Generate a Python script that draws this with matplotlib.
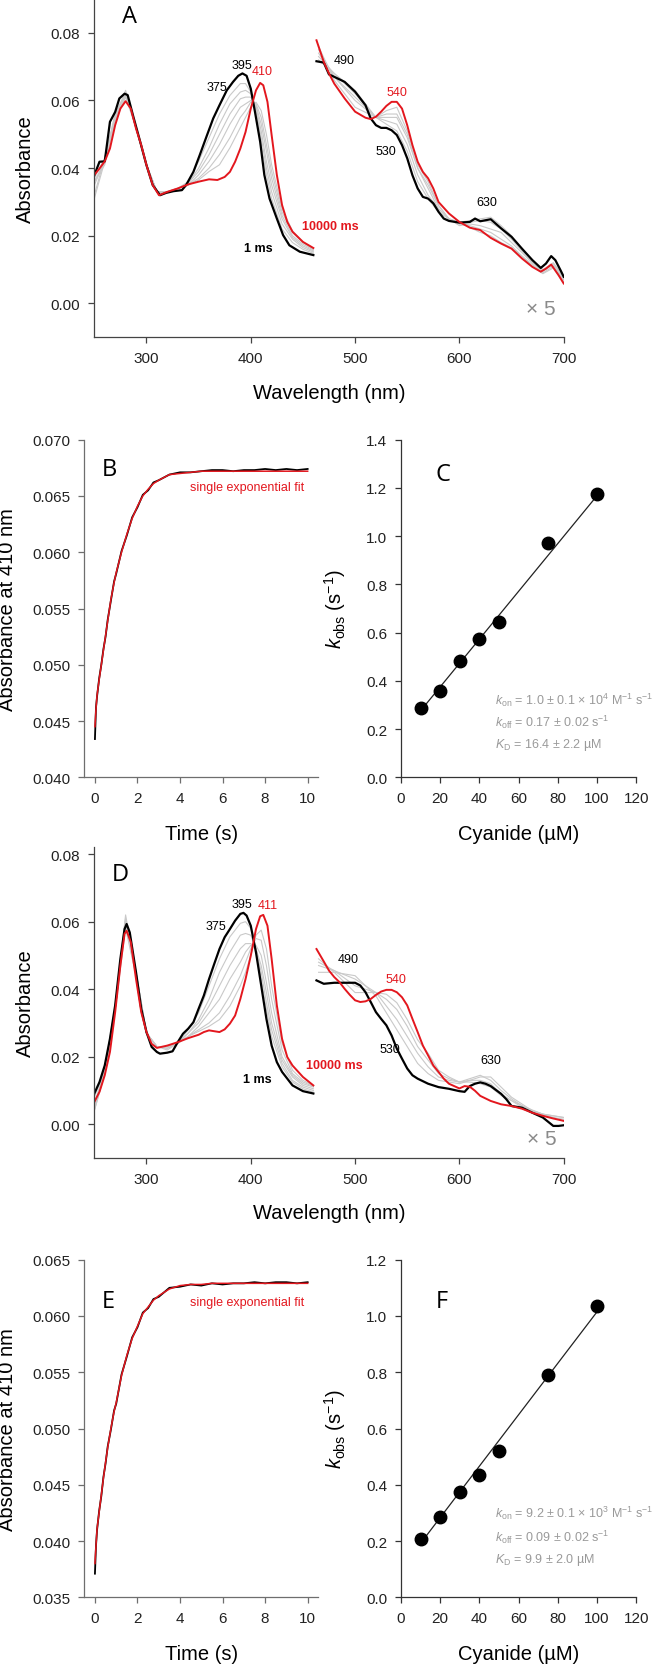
import matplotlib
matplotlib.use("Agg")
import matplotlib.pyplot as plt
from matplotlib.ticker import FormatStrFormatter, MultipleLocator

plt.rcParams['font.family'] = ['Liberation Sans', 'DejaVu Sans']
plt.rcParams['mathtext.fontset'] = 'custom'
plt.rcParams['mathtext.rm'] = 'Liberation Sans'
plt.rcParams['mathtext.it'] = 'Liberation Sans:italic'

RED = '#e3171e'
GRAY = '#c9c9c9'

# ---------------- panel A spectra ----------------
a_soret_wl_k = [250, 255, 260, 265, 270, 274, 279, 282, 287, 294, 300, 306, 313, 319, 326, 334, 338,
                345, 351, 358, 364, 370, 377, 383, 388, 392, 396, 400, 404, 409, 413, 418, 425, 431,
                437, 447, 460]
a_soret_k = [0.0379, 0.0419, 0.0420, 0.0537, 0.0566, 0.0606, 0.0620, 0.0616, 0.0557, 0.0478, 0.0409,
             0.0350, 0.0320, 0.0327, 0.0332, 0.0335, 0.0350, 0.0389, 0.0438, 0.0497, 0.0547, 0.0586,
             0.0630, 0.0655, 0.0673, 0.0680, 0.0673, 0.0635, 0.0567, 0.0478, 0.0380, 0.0310, 0.0251,
             0.0202, 0.0172, 0.0153, 0.0143]
a_soret_wl_r = [250, 255, 260, 265, 270, 275, 280, 285, 290, 295, 300, 306, 312, 320, 330, 340, 350,
                360, 368, 375, 380, 385, 390, 395, 400, 405, 409, 412, 416, 420, 425, 430, 435, 440,
                450, 460]
a_soret_r = [0.0380, 0.0399, 0.0420, 0.0458, 0.0527, 0.0576, 0.0598, 0.0576, 0.0517, 0.0468, 0.0409,
             0.0350, 0.0320, 0.0330, 0.0340, 0.0352, 0.0360, 0.0367, 0.0365, 0.0374, 0.0389, 0.0419,
             0.0458, 0.0507, 0.0576, 0.0630, 0.0652, 0.0645, 0.0596, 0.0498, 0.0380, 0.0291, 0.0241,
             0.0212, 0.0182, 0.0164]
a_vis_wl_k = [463, 470, 475, 480, 490, 500, 510, 515, 520, 525, 530, 535, 540, 545, 550, 555, 560, 565,
              570, 575, 580, 585, 590, 600, 610, 615, 620, 630, 640, 650, 660, 670, 678, 683, 688, 692,
              697, 700]
a_vis_k = [0.0716, 0.0712, 0.0677, 0.0670, 0.0655, 0.0626, 0.0586, 0.0547, 0.0527, 0.0519, 0.0519,
           0.0512, 0.0498, 0.0468, 0.0429, 0.0379, 0.0340, 0.0315, 0.0310, 0.0296, 0.0271, 0.0251,
           0.0244, 0.0239, 0.0241, 0.0251, 0.0243, 0.0249, 0.0222, 0.0197, 0.0162, 0.0128, 0.0105,
           0.0118, 0.0140, 0.0128, 0.0098, 0.0079]
a_vis_wl_r = [463, 470, 475, 480, 490, 500, 510, 515, 520, 525, 530, 535, 540, 545, 550, 555, 560, 565,
              570, 575, 580, 590, 600, 610, 620, 630, 640, 650, 660, 670, 678, 683, 688, 695, 700]
a_vis_r = [0.0778, 0.0714, 0.0680, 0.0650, 0.0606, 0.0567, 0.0549, 0.0545, 0.0552, 0.0567, 0.0584,
           0.0596, 0.0596, 0.0576, 0.0527, 0.0468, 0.0419, 0.0389, 0.0370, 0.0340, 0.0300, 0.0266,
           0.0241, 0.0224, 0.0217, 0.0194, 0.0177, 0.0162, 0.0133, 0.0108, 0.0094, 0.0103, 0.0115,
           0.0084, 0.0059]

# intermediate (grey) spectra, read on a coarse grid
soret_grid = [250, 260, 270, 280, 290, 300, 310, 320, 330, 340, 350, 360, 370, 380, 390, 395, 400,
              405, 410, 415, 420, 430, 440, 450, 460]
vis_grid = [465, 480, 500, 520, 530, 540, 550, 560, 570, 580, 590, 600, 610, 620, 630, 640, 650, 660,
            670, 680, 690, 700]
a_soret_grey = [
    [0.037, 0.043, 0.056, 0.0625, 0.052, 0.041, 0.033, 0.033, 0.034, 0.036, 0.042, 0.049, 0.056, 0.0615,
     0.065, 0.065, 0.0625, 0.056, 0.047, 0.038, 0.031, 0.022, 0.018, 0.016, 0.0148],
    [0.036, 0.042, 0.056, 0.062, 0.052, 0.041, 0.033, 0.033, 0.034, 0.0355, 0.040, 0.046, 0.053, 0.059,
     0.0625, 0.063, 0.062, 0.0575, 0.049, 0.040, 0.033, 0.0235, 0.019, 0.0165, 0.0152],
    [0.035, 0.042, 0.055, 0.062, 0.052, 0.041, 0.033, 0.033, 0.034, 0.0355, 0.039, 0.044, 0.050, 0.056,
     0.0605, 0.061, 0.061, 0.058, 0.051, 0.042, 0.035, 0.025, 0.0195, 0.017, 0.0155],
    [0.032, 0.043, 0.055, 0.0615, 0.052, 0.041, 0.033, 0.033, 0.034, 0.035, 0.038, 0.042, 0.047, 0.053,
     0.058, 0.059, 0.060, 0.0585, 0.053, 0.045, 0.037, 0.026, 0.020, 0.0175, 0.0158],
    [0.031, 0.042, 0.054, 0.061, 0.052, 0.041, 0.033, 0.033, 0.034, 0.035, 0.037, 0.040, 0.044, 0.049,
     0.055, 0.057, 0.0595, 0.059, 0.055, 0.047, 0.039, 0.027, 0.021, 0.018, 0.016],
    [0.036, 0.041, 0.054, 0.063, 0.052, 0.041, 0.033, 0.033, 0.034, 0.035, 0.0365, 0.039, 0.041, 0.046,
     0.052, 0.055, 0.058, 0.0595, 0.057, 0.050, 0.041, 0.028, 0.0215, 0.0182, 0.0162],
]
a_vis_grey = [
    [0.072, 0.068, 0.063, 0.055, 0.053, 0.051, 0.045, 0.036, 0.031, 0.027, 0.025, 0.024, 0.0245, 0.025,
     0.0255, 0.023, 0.020, 0.016, 0.013, 0.010, 0.012, 0.008],
    [0.073, 0.068, 0.062, 0.055, 0.054, 0.053, 0.047, 0.038, 0.032, 0.028, 0.025, 0.0235, 0.024, 0.0245,
     0.024, 0.022, 0.019, 0.0155, 0.012, 0.0095, 0.012, 0.0075],
    [0.074, 0.067, 0.061, 0.055, 0.055, 0.055, 0.049, 0.040, 0.034, 0.028, 0.025, 0.023, 0.0235, 0.023,
     0.022, 0.021, 0.018, 0.015, 0.012, 0.0095, 0.0115, 0.007],
    [0.075, 0.067, 0.060, 0.055, 0.056, 0.056, 0.050, 0.040, 0.035, 0.029, 0.025, 0.0235, 0.023, 0.022,
     0.021, 0.019, 0.017, 0.014, 0.0115, 0.009, 0.011, 0.0065],
    [0.076, 0.066, 0.058, 0.055, 0.057, 0.058, 0.051, 0.041, 0.036, 0.029, 0.025, 0.024, 0.0225, 0.021,
     0.020, 0.018, 0.0165, 0.014, 0.011, 0.0088, 0.0105, 0.006],
]

# ---------------- panel D spectra ----------------
d_soret_wl_k = [250, 255, 260, 265, 270, 275, 279, 281, 284, 290, 295, 300, 305, 310, 313, 320, 325,
                330, 335, 340, 345, 350, 355, 360, 365, 370, 375, 380, 385, 390, 393, 396, 400, 405,
                410, 415, 420, 425, 430, 440, 450, 460]
d_soret_k = [0.0091, 0.0125, 0.0174, 0.0253, 0.0352, 0.0490, 0.0578, 0.0593, 0.0568, 0.0450, 0.0342,
             0.0273, 0.0229, 0.0214, 0.0209, 0.0212, 0.0216, 0.0243, 0.0268, 0.0283, 0.0302, 0.0342,
             0.0381, 0.0430, 0.0475, 0.0519, 0.0554, 0.0578, 0.0603, 0.0623, 0.0626, 0.0618, 0.0588,
             0.0509, 0.0411, 0.0312, 0.0233, 0.0184, 0.0155, 0.0115, 0.0098, 0.0091]
d_soret_wl_r = [250, 255, 260, 265, 270, 275, 279, 281, 285, 290, 295, 300, 305, 310, 320, 330, 340,
                350, 355, 360, 370, 375, 380, 385, 390, 395, 400, 405, 409, 412, 416, 420, 425, 430,
                435, 440, 450, 460]
d_soret_r = [0.0066, 0.0096, 0.0145, 0.0214, 0.0332, 0.0470, 0.0564, 0.0573, 0.0539, 0.0430, 0.0332,
             0.0273, 0.0238, 0.0226, 0.0233, 0.0243, 0.0255, 0.0265, 0.0273, 0.0278, 0.0273, 0.0281,
             0.0298, 0.0322, 0.0371, 0.0430, 0.0499, 0.0578, 0.0616, 0.0620, 0.0588, 0.0490, 0.0352,
             0.0253, 0.0199, 0.0174, 0.0140, 0.0115]
d_vis_wl_k = [463, 470, 480, 490, 500, 505, 510, 515, 520, 525, 530, 535, 540, 545, 550, 555, 560,
              570, 580, 590, 600, 605, 610, 615, 620, 625, 630, 640, 645, 650, 660, 670, 680, 690,
              695, 700]
d_vis_k = [0.0426, 0.0416, 0.0419, 0.0419, 0.0419, 0.0411, 0.0391, 0.0362, 0.0332, 0.0312, 0.0293,
           0.0263, 0.0224, 0.0194, 0.0165, 0.0145, 0.0135, 0.0120, 0.0110, 0.0105, 0.0098, 0.0096,
           0.0113, 0.0120, 0.0124, 0.0120, 0.0113, 0.0090, 0.0074, 0.0054, 0.0049, 0.0034, 0.0020,
           -0.0005, -0.0005, -0.0003]
d_vis_wl_r = [463, 470, 475, 480, 485, 490, 495, 500, 505, 510, 515, 520, 525, 530, 535, 540, 545,
              550, 555, 560, 565, 570, 575, 580, 585, 590, 600, 605, 610, 615, 620, 630, 640, 650,
              660, 670, 680, 690, 700]
d_vis_r = [0.0519, 0.0482, 0.0455, 0.0436, 0.0421, 0.0401, 0.0383, 0.0367, 0.0362, 0.0364, 0.0371,
           0.0383, 0.0393, 0.0398, 0.0398, 0.0391, 0.0376, 0.0352, 0.0312, 0.0273, 0.0233, 0.0204,
           0.0174, 0.0155, 0.0135, 0.0120, 0.0106, 0.0113, 0.0111, 0.0099, 0.0084, 0.0069, 0.0059,
           0.0054, 0.0046, 0.0034, 0.0025, 0.0017, 0.0010]
d_soret_grey = [
    [0.008, 0.016, 0.035, 0.062, 0.045, 0.027, 0.023, 0.022, 0.024, 0.028, 0.033, 0.041, 0.049, 0.0555,
     0.0595, 0.060, 0.058, 0.052, 0.043, 0.034, 0.026, 0.017, 0.0125, 0.0105, 0.0095],
    [0.006, 0.016, 0.035, 0.061, 0.045, 0.027, 0.023, 0.0225, 0.024, 0.027, 0.031, 0.037, 0.045, 0.051,
     0.056, 0.0565, 0.056, 0.052, 0.045, 0.036, 0.028, 0.018, 0.013, 0.011, 0.010],
    [0.005, 0.015, 0.034, 0.060, 0.045, 0.027, 0.023, 0.0225, 0.024, 0.027, 0.030, 0.035, 0.041, 0.047,
     0.052, 0.0535, 0.0535, 0.052, 0.047, 0.039, 0.030, 0.019, 0.014, 0.0115, 0.0105],
    [0.004, 0.015, 0.034, 0.060, 0.045, 0.027, 0.023, 0.023, 0.024, 0.026, 0.029, 0.033, 0.037, 0.043,
     0.048, 0.051, 0.053, 0.053, 0.050, 0.042, 0.033, 0.020, 0.0145, 0.012, 0.011],
    [0.004, 0.015, 0.034, 0.059, 0.044, 0.027, 0.023, 0.023, 0.024, 0.026, 0.028, 0.030, 0.033, 0.038,
     0.044, 0.048, 0.052, 0.055, 0.0545, 0.047, 0.037, 0.022, 0.015, 0.0125, 0.0112],
    [0.005, 0.015, 0.034, 0.058, 0.044, 0.027, 0.023, 0.023, 0.024, 0.026, 0.0275, 0.029, 0.031, 0.035,
     0.041, 0.045, 0.050, 0.056, 0.0575, 0.052, 0.041, 0.024, 0.016, 0.013, 0.0114],
]
d_vis_grey = [
    [0.045, 0.045, 0.044, 0.038, 0.033, 0.028, 0.023, 0.018, 0.015, 0.013, 0.0125, 0.012, 0.013, 0.014,
     0.014, 0.011, 0.008, 0.006, 0.004, 0.0025, 0.002, 0.001],
    [0.047, 0.0455, 0.043, 0.039, 0.035, 0.031, 0.026, 0.021, 0.017, 0.014, 0.013, 0.0125, 0.0135, 0.0145,
     0.013, 0.010, 0.0075, 0.0055, 0.0042, 0.003, 0.002, 0.0015],
    [0.048, 0.0455, 0.041, 0.039, 0.037, 0.034, 0.029, 0.023, 0.019, 0.015, 0.0135, 0.0125, 0.013, 0.013,
     0.012, 0.009, 0.007, 0.0055, 0.004, 0.003, 0.0025, 0.002],
    [0.049, 0.045, 0.039, 0.039, 0.0385, 0.036, 0.031, 0.025, 0.021, 0.016, 0.014, 0.0125, 0.0125, 0.012,
     0.011, 0.0085, 0.007, 0.005, 0.004, 0.003, 0.0025, 0.002],
]

# ---------------- kinetic traces B / E ----------------
t_s = [0, 0.05, 0.1, 0.2, 0.3, 0.4, 0.5, 0.6, 0.75, 0.9, 1.0, 1.25, 1.5, 1.75, 2.0, 2.25, 2.5, 2.75,
       3.0, 3.5, 4.0, 4.5, 5.0, 5.5, 6.0, 6.5, 7.0, 7.5, 8.0, 8.5, 9.0, 9.5, 10.0]
b_raw = [0.0434, 0.0462, 0.0472, 0.0488, 0.0500, 0.0514, 0.0525, 0.0540, 0.0557, 0.0574, 0.0581,
         0.0601, 0.0615, 0.0631, 0.0640, 0.0651, 0.0655, 0.0662, 0.0664, 0.0669, 0.0671, 0.0671,
         0.0672, 0.0673, 0.0673, 0.0672, 0.0673, 0.0673, 0.0674, 0.0673, 0.0674, 0.0673, 0.0674]
b_fit = [0.0445, 0.0461, 0.0473, 0.0487, 0.0500, 0.0513, 0.0526, 0.0539, 0.0558, 0.0573, 0.0582,
         0.0600, 0.0616, 0.0630, 0.0641, 0.0650, 0.0656, 0.0661, 0.0664, 0.0669, 0.0670, 0.0671,
         0.0672, 0.0672, 0.0672, 0.0672, 0.0672, 0.0672, 0.0672, 0.0672, 0.0672, 0.0672, 0.0672]
e_raw = [0.0371, 0.0396, 0.0410, 0.0427, 0.0440, 0.0457, 0.0469, 0.0484, 0.0499, 0.0516, 0.0522,
         0.0548, 0.0564, 0.0581, 0.0590, 0.0603, 0.0607, 0.0615, 0.0617, 0.0625, 0.0626, 0.0628,
         0.0627, 0.0629, 0.0628, 0.0629, 0.0629, 0.0630, 0.0629, 0.0630, 0.0630, 0.0629, 0.0630]
e_fit = [0.0380, 0.0396, 0.0411, 0.0426, 0.0441, 0.0456, 0.0470, 0.0483, 0.0500, 0.0515, 0.0523,
         0.0547, 0.0565, 0.0580, 0.0591, 0.0602, 0.0608, 0.0614, 0.0618, 0.0624, 0.0627, 0.0628,
         0.0628, 0.0629, 0.0629, 0.0629, 0.0629, 0.0629, 0.0629, 0.0629, 0.0629, 0.0629, 0.0629]

# ---------------- kobs vs cyanide C / F ----------------
cyanide = [10, 20, 30, 40, 50, 75, 100]
kobs_c = [0.286, 0.359, 0.481, 0.574, 0.645, 0.972, 1.173]
kobs_f = [0.207, 0.287, 0.373, 0.436, 0.521, 0.791, 1.034]
fit_x = [10, 100]
fit_c = [0.276, 1.168]
fit_f = [0.192, 1.015]

W, H = 656, 1665
fig = plt.figure(figsize=(W / 100, H / 100), dpi=100)


def place(x0, y0, x1, y1):
    return fig.add_axes([x0 / W, 1 - y1 / H, (x1 - x0) / W, (y1 - y0) / H])


def style(ax, color):
    for s in ['top', 'right']:
        ax.spines[s].set_visible(False)
    for s in ['left', 'bottom']:
        ax.spines[s].set_color(color)
        ax.spines[s].set_linewidth(0.9)
    ax.tick_params(direction='out', length=4, width=0.9, color=color, labelsize=11,
                   labelcolor='#222222', pad=6)


def spectra(ax, sk, sr, vk, vr, sgrey, vgrey, ylim):
    for g in sgrey:
        ax.plot(soret_grid, g, color=GRAY, lw=0.8)
    for g in vgrey:
        ax.plot(vis_grid, g, color=GRAY, lw=0.8)
    ax.plot(sk[0], sk[1], color='black', lw=1.6)
    ax.plot(vk[0], vk[1], color='black', lw=1.6)
    ax.plot(sr[0], sr[1], color=RED, lw=1.4)
    ax.plot(vr[0], vr[1], color=RED, lw=1.4)
    ax.set_xlim(250, 700)
    ax.set_ylim(*ylim)
    ax.set_xticks([300, 400, 500, 600, 700])
    ax.set_yticks([0.0, 0.02, 0.04, 0.06, 0.08])
    ax.yaxis.set_major_formatter(FormatStrFormatter('%.2f'))
    style(ax, '#444444')
    ax.set_xlabel('Wavelength (nm)', fontsize=14.5)
    ax.set_ylabel('Absorbance', fontsize=14.5)
    ax.yaxis.set_label_coords(-0.126, 0.5)


def peak_labels(ax, items):
    for txt, x, y, c, bold in items:
        ax.text(x, y, txt, color=c, fontsize=9, ha='center', va='center',
                fontweight='bold' if bold else 'normal')


# Panel A
axA = place(94.3, 0, 563.7, 338.3)
spectra(axA, (a_soret_wl_k, a_soret_k), (a_soret_wl_r, a_soret_r), (a_vis_wl_k, a_vis_k),
        (a_vis_wl_r, a_vis_r), a_soret_grey, a_vis_grey, (-0.01, 0.09))
axA.xaxis.set_label_coords(0.5, -0.135)
peak_labels(axA, [('395', 391.5, 0.0706, 'black', False), ('410', 411.2, 0.0687, RED, False),
                  ('375', 367.6, 0.0640, 'black', False), ('1 ms', 406.9, 0.0165, 'black', True),
                  ('10000 ms', 476, 0.0229, RED, True), ('490', 489.6, 0.0719, 'black', False),
                  ('540', 540.1, 0.0626, RED, False), ('530', 529.6, 0.0450, 'black', False),
                  ('630', 626.4, 0.0299, 'black', False)])
axA.text(677.9, -0.0015, '× 5', color='#8a8a8a', fontsize=15, ha='center', va='center')

# Panel D
axD = place(94.3, 847.7, 563.7, 1159)
spectra(axD, (d_soret_wl_k, d_soret_k), (d_soret_wl_r, d_soret_r), (d_vis_wl_k, d_vis_k),
        (d_vis_wl_r, d_vis_r), d_soret_grey, d_vis_grey, (-0.01, 0.0822))
axD.xaxis.set_label_coords(0.5, -0.145)
peak_labels(axD, [('395', 391.6, 0.0652, 'black', False), ('411', 416.2, 0.0649, RED, False),
                  ('375', 366.6, 0.0588, 'black', False), ('1 ms', 406, 0.0135, 'black', True),
                  ('10000 ms', 479.7, 0.0175, RED, True), ('490', 493.6, 0.0490, 'black', False),
                  ('540', 539, 0.0431, RED, False), ('530', 533, 0.0224, 'black', False),
                  ('630', 630.2, 0.0189, 'black', False)])
axD.text(679, -0.0042, '× 5', color='#8a8a8a', fontsize=15, ha='center', va='center')


# Panels B / E
def trace(ax, raw, fit, ylim, ty):
    ax.plot(t_s, raw, color='black', lw=1.3)
    ax.plot(t_s, fit, color=RED, lw=1.1)
    ax.set_xlim(-0.5, 10.5)
    ax.set_ylim(*ylim)
    ax.set_xticks([0, 2, 4, 6, 8, 10])
    ax.yaxis.set_major_locator(MultipleLocator(0.005))
    ax.yaxis.set_major_formatter(FormatStrFormatter('%.3f'))
    style(ax, '#6e6e6e')
    ax.set_xlabel('Time (s)', fontsize=14.5)
    ax.xaxis.set_label_coords(0.5, -0.138)
    ax.set_ylabel('Absorbance at 410 nm', fontsize=14.5)
    ax.yaxis.set_label_coords(-0.288, 0.5)
    ax.text(9.86, ty, 'single exponential fit', color=RED, fontsize=9, ha='right', va='center')


axB = place(84.3, 440.7, 318.3, 778.3)
trace(axB, b_raw, b_fit, (0.040, 0.070), 0.0658)
axE = place(84.3, 1260.7, 318.3, 1598.3)
trace(axE, e_raw, e_fit, (0.035, 0.065), 0.0612)


# Panels C / F
def kobs_plot(ax, k, fit, ymax, lines, ys):
    ax.plot(fit_x, fit, color='#222222', lw=0.9)
    ax.plot(cyanide, k, 'o', color='black', ms=9)
    ax.set_xlim(0, 120)
    ax.set_ylim(0, ymax)
    ax.set_xticks([0, 20, 40, 60, 80, 100, 120])
    ax.yaxis.set_major_locator(MultipleLocator(0.2))
    ax.yaxis.set_major_formatter(FormatStrFormatter('%.1f'))
    style(ax, '#333333')
    ax.set_xlabel('Cyanide (µM)', fontsize=14.5)
    ax.xaxis.set_label_coords(0.5, -0.138)
    ax.set_ylabel(r'$k_{\mathrm{obs}}$ (s$^{-1}$)', fontsize=14.5)
    ax.yaxis.set_label_coords(-0.225, 0.5)
    for txt, y in zip(lines, ys):
        ax.text(48, y, txt, color='#9a9a9a', fontsize=9, ha='left', va='center')


axC = place(401, 440.7, 636.3, 778.3)
kobs_plot(axC, kobs_c, fit_c, 1.4,
          [r'$k_{\mathrm{on}}$ = 1.0 ± 0.1 × 10$^{4}$ M$^{-1}$ s$^{-1}$',
           r'$k_{\mathrm{off}}$ = 0.17 ± 0.02 s$^{-1}$',
           r'$K_{\mathrm{D}}$ = 16.4 ± 2.2 µM'], [0.325, 0.234, 0.138])
axF = place(401, 1260.7, 636.3, 1598.3)
kobs_plot(axF, kobs_f, fit_f, 1.2,
          [r'$k_{\mathrm{on}}$ = 9.2 ± 0.1 × 10$^{3}$ M$^{-1}$ s$^{-1}$',
           r'$k_{\mathrm{off}}$ = 0.09 ± 0.02 s$^{-1}$',
           r'$K_{\mathrm{D}}$ = 9.9 ± 2.0 µM'], [0.303, 0.218, 0.136])

# panel letters
for letter, x, y in [('A', 130, 17), ('B', 109, 470), ('C', 443, 475), ('D', 120, 875),
                     ('E', 108, 1302), ('F', 442, 1302)]:
    fig.text(x / W, 1 - y / H, letter, fontsize=17, family='Open Sans', ha='center', va='center')

fig.savefig('out.png', dpi=100)
